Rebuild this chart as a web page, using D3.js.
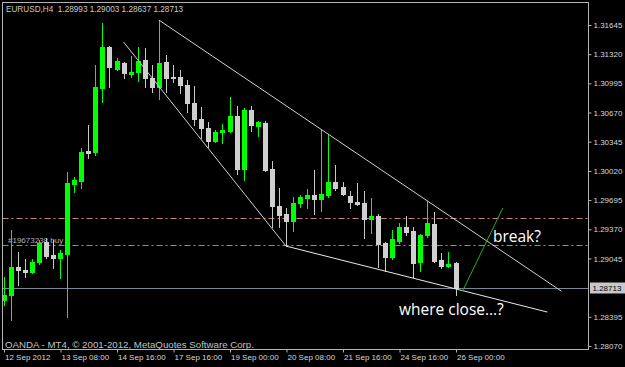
<!DOCTYPE html>
<html>
<head>
<meta charset="utf-8">
<script src="https://cdn.jsdelivr.net/npm/d3@7"></script>
<style>
body { margin: 0; background: #000; }
svg { display: block; }
</style>
</head>
<body>
<div id="chart"></div>
<script>
var symbol = "EURUSD,H4";

// H4 bars, 12 Sep 2012 00:00 .. 26 Sep 2012 00:00
var opens = [1.28582, 1.28638, 1.28949, 1.28916, 1.28894, 1.29005, 1.29228, 1.29083, 1.29050, 1.29094,
    1.29874, 1.29907, 1.30241, 1.30230, 1.30943, 1.31400, 1.31155, 1.31221, 1.31099, 1.31121,
    1.31255, 1.31054, 1.30954, 1.31233, 1.31065, 1.31065, 1.30976, 1.30776, 1.30598, 1.30497,
    1.30353, 1.30453, 1.30464, 1.30631, 1.30041, 1.30698, 1.30520, 1.30553, 1.30041, 1.29629,
    1.29540, 1.29462, 1.29662, 1.29718, 1.29751, 1.29707, 1.29751, 1.29896, 1.29840, 1.29740,
    1.29673, 1.29662, 1.29484, 1.29517, 1.29217, 1.29061, 1.29239, 1.29395, 1.29350, 1.29005,
    1.29306, 1.29428, 1.29027, 1.28961, 1.28993];
var highs = [1.28838, 1.29361, 1.29116, 1.29039, 1.29039, 1.29250, 1.29272, 1.29250, 1.29139, 1.30007,
    1.29952, 1.30275, 1.30531, 1.31199, 1.31667, 1.31410, 1.31277, 1.31233, 1.31299, 1.31400,
    1.31388, 1.31199, 1.31700, 1.31310, 1.31199, 1.31143, 1.31032, 1.30965, 1.30731, 1.30564,
    1.30475, 1.30542, 1.30843, 1.30742, 1.30720, 1.30742, 1.30575, 1.30575, 1.30130, 1.29829,
    1.29607, 1.29729, 1.29751, 1.29818, 1.30030, 1.30475, 1.30431, 1.30085, 1.29896, 1.29796,
    1.29885, 1.29796, 1.29718, 1.29540, 1.29228, 1.29361, 1.29439, 1.29517, 1.29395, 1.29317,
    1.29684, 1.29562, 1.29105, 1.29116, 1.29003];
var lows = [1.28526, 1.28359, 1.28749, 1.28838, 1.28880, 1.28983, 1.29050, 1.28938, 1.28827, 1.28393,
    1.29785, 1.29829, 1.30163, 1.30197, 1.30787, 1.30954, 1.31143, 1.31054, 1.31065, 1.31021,
    1.30954, 1.30898, 1.30820, 1.30898, 1.31010, 1.30887, 1.30676, 1.30531, 1.30386, 1.30286,
    1.30342, 1.30330, 1.30453, 1.29985, 1.29918, 1.30464, 1.30408, 1.30019, 1.29395, 1.29395,
    1.29183, 1.29350, 1.29618, 1.29607, 1.29540, 1.29573, 1.29729, 1.29807, 1.29751, 1.29607,
    1.29640, 1.29272, 1.29328, 1.28949, 1.28905, 1.29039, 1.29217, 1.29306, 1.28838, 1.28905,
    1.29284, 1.29005, 1.28938, 1.28949, 1.28637];
var closes = [1.28638, 1.28949, 1.28916, 1.28894, 1.29005, 1.29217, 1.29072, 1.29050, 1.29105, 1.29885,
    1.29918, 1.30230, 1.30219, 1.30954, 1.31400, 1.31177, 1.31244, 1.31110, 1.31121, 1.31244,
    1.31054, 1.30954, 1.31221, 1.31054, 1.31054, 1.30976, 1.30776, 1.30598, 1.30497, 1.30353,
    1.30453, 1.30475, 1.30631, 1.30041, 1.30698, 1.30531, 1.30564, 1.30030, 1.29629, 1.29529,
    1.29462, 1.29662, 1.29729, 1.29751, 1.29707, 1.29762, 1.29896, 1.29829, 1.29762, 1.29673,
    1.29651, 1.29484, 1.29517, 1.29206, 1.29061, 1.29261, 1.29395, 1.29339, 1.28994, 1.29306,
    1.29439, 1.29016, 1.28961, 1.28983, 1.28713];

var timeTickIdx = [0, 8, 16, 24, 32, 40, 48, 56, 64];
var timeTickLabels = ["12 Sep 2012", "13 Sep 08:00", "14 Sep 16:00", "17 Sep 16:00", "19 Sep 00:00",
    "20 Sep 08:00", "21 Sep 16:00", "24 Sep 16:00", "26 Sep 00:00"];
var priceTicks = [1.31645, 1.31320, 1.30995, 1.30670, 1.30345, 1.30020, 1.29695, 1.29370, 1.29045,
    1.28395, 1.28070];

// horizontal levels
var bid = 1.28713;
var tpLevel = 1.29495;
var buyLevel = 1.29194;
var orderLabel = "#19673238 buy";

// drawn objects: [bar index, price]
var upperLine = [[22, 1.31700], [79, 1.28680]];
var leftLine = [[17, 1.31455], [40, 1.29183]];
var lowerLine = [[40, 1.29183], [77, 1.28448]];
var breakLine = [[65, 1.28683], [70.7, 1.29607]];
var notes = [{text: "break?", at: [69.3, 1.29230]}, {text: "where close\u2026?", at: [56, 1.28415]}];
var copyright = "OANDA - MT4, \u00a9 2001-2012, MetaQuotes Software Corp.";

var width = 625, height = 367;
var plot = {left: 2.5, top: 2.5, right: 588.5, bottom: 349.5};

var x = d3.scaleLinear().domain([0, 64]).range([3.5, 455.5]);
var y = d3.scaleLinear().domain([1.28070, 1.31645]).range([346, 25]);
var fmt = d3.format(".5f");

var svg = d3.select("#chart").append("svg")
    .attr("width", width)
    .attr("height", height)
    .style("background", "#000");

svg.append("defs").append("clipPath").attr("id", "clip")
    .append("rect")
    .attr("x", plot.left + 0.5).attr("y", plot.top + 0.5)
    .attr("width", plot.right - plot.left - 1)
    .attr("height", plot.bottom - plot.top - 1);

var g = svg.append("g").attr("clip-path", "url(#clip)");

function hline(level, color, dash) {
    var yy = Math.round(y(level)) + 0.5;
    g.append("line")
        .attr("x1", plot.left).attr("x2", plot.right)
        .attr("y1", yy).attr("y2", yy)
        .attr("stroke", color)
        .attr("stroke-width", 1)
        .attr("stroke-dasharray", dash);
}
hline(tpLevel, "#c98478", "6,3,2,3");
hline(buyLevel, "#7d9a7d", "6,3,2,3");
hline(bid, "#778899", null);

// order label
g.append("text")
    .attr("x", 8).attr("y", y(buyLevel) - 2)
    .attr("fill", "#b0b0b0")
    .style("font", "8px 'Liberation Sans', Arial, sans-serif")
    .text(orderLabel);

// candles
var idx = d3.range(opens.length);
var bars = g.selectAll(".bar").data(idx).enter().append("g").attr("class", "bar");

bars.append("line")
    .attr("x1", function (i) { return Math.round(x(i)) + 0.5; })
    .attr("x2", function (i) { return Math.round(x(i)) + 0.5; })
    .attr("y1", function (i) { return Math.round(y(highs[i])); })
    .attr("y2", function (i) { return Math.round(y(lows[i])) + 1; })
    .attr("stroke", function (i) { return closes[i] >= opens[i] ? "#00ff00" : "#c8c8c8"; })
    .attr("stroke-width", 1);

bars.append("rect")
    .attr("x", function (i) { return Math.round(x(i)) - 2; })
    .attr("width", 5)
    .attr("y", function (i) { return Math.round(y(Math.max(opens[i], closes[i]))); })
    .attr("height", function (i) {
        return Math.max(1, Math.round(y(Math.min(opens[i], closes[i]))) - Math.round(y(Math.max(opens[i], closes[i]))) + 1);
    })
    .attr("fill", function (i) { return closes[i] >= opens[i] ? "#00ff00" : "#cfcfcf"; });

// trend lines
function seg(pts, color) {
    g.append("line")
        .attr("x1", x(pts[0][0])).attr("y1", y(pts[0][1]))
        .attr("x2", x(pts[1][0])).attr("y2", y(pts[1][1]))
        .attr("stroke", color)
        .attr("stroke-width", 1);
}
seg(upperLine, "#d0d0d0");
seg(leftLine, "#d0d0d0");
seg(lowerLine, "#e8e8e8");
seg(breakLine, "#1fb01f");

g.selectAll(".note").data(notes).enter().append("text")
    .attr("class", "note")
    .attr("x", function (d) { return x(d.at[0]); })
    .attr("y", function (d) { return y(d.at[1]); })
    .attr("fill", "#ffffff")
    .style("font", "15.5px 'Open Sans', sans-serif")
    .text(function (d) { return d.text; });

// frame
svg.append("rect")
    .attr("x", plot.left).attr("y", plot.top)
    .attr("width", plot.right - plot.left)
    .attr("height", plot.bottom - plot.top)
    .attr("fill", "none")
    .attr("stroke", "#b4b4b4");

// axes
var xAxis = d3.axisBottom(x)
    .tickValues(timeTickIdx)
    .tickSize(3)
    .tickPadding(2)
    .tickFormat(function (d, i) { return timeTickLabels[i]; });

var gx = svg.append("g")
    .attr("transform", "translate(0," + plot.bottom + ")")
    .call(xAxis);
gx.select(".domain").remove();
gx.selectAll("line").attr("stroke", "#b4b4b4").attr("transform", "translate(0.5,0)");
gx.selectAll("text")
    .attr("text-anchor", "start")
    .attr("x", 1)
    .attr("fill", "#d8d8d8")
    .style("font", "8px 'Liberation Sans', Arial, sans-serif");

var yAxis = d3.axisRight(y)
    .tickValues(priceTicks)
    .tickSize(3)
    .tickPadding(2)
    .tickFormat(fmt);

var gy = svg.append("g")
    .attr("transform", "translate(" + plot.right + ",0)")
    .call(yAxis);
gy.select(".domain").remove();
gy.selectAll("line").attr("stroke", "#b4b4b4");
gy.selectAll("text")
    .attr("fill", "#d8d8d8")
    .style("font", "8px 'Liberation Sans', Arial, sans-serif");

// current price tag
var by = Math.round(y(bid));
svg.append("rect")
    .attr("x", plot.right + 1.5).attr("y", by - 5.5)
    .attr("width", 36).attr("height", 11)
    .attr("fill", "#c8c8c8");
svg.append("text")
    .attr("x", plot.right + 4).attr("y", by + 3)
    .attr("fill", "#000")
    .style("font", "8px 'Liberation Sans', Arial, sans-serif")
    .text(fmt(bid));

// header and copyright
var last = opens.length - 1;
svg.append("text")
    .attr("x", 6).attr("y", 12)
    .attr("fill", "#c8c8c8")
    .attr("xml:space", "preserve")
    .style("font", "8.2px 'Liberation Sans', Arial, sans-serif")
    .text(symbol + "  " + [opens[last], highs[last], lows[last], closes[last]].map(fmt).join(" "));

svg.append("text")
    .attr("x", 5).attr("y", 348)
    .attr("fill", "#c0c0c0")
    .style("font", "9.7px 'Liberation Sans', Arial, sans-serif")
    .text(copyright);
</script>
</body>
</html>
